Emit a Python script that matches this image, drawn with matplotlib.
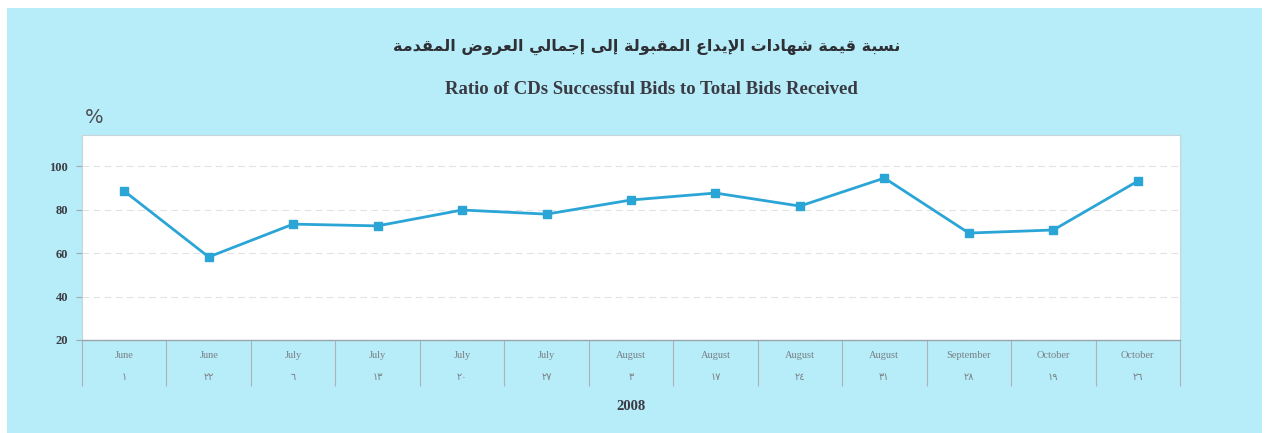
import matplotlib
matplotlib.use('Agg')
import matplotlib.pyplot as plt
from matplotlib.patches import Rectangle

title_ar = 'نسبة قيمة شهادات الإيداع المقبولة إلى إجمالي العروض المقدمة'
title_en = 'Ratio of CDs Successful Bids to Total Bids Received'
months = ['June', 'June', 'July', 'July', 'July', 'July', 'August', 'August',
          'August', 'August', 'September', 'October', 'October']
days = ['١', '٢٢', '٦', '١٣', '٢٠', '٢٧', '٣', '١٧', '٢٤', '٣١', '٢٨', '١٩', '٢٦']
ratio = [88.5, 58.2, 73.3, 72.5, 79.8, 77.9, 84.4, 87.6, 81.6, 94.5, 69.2, 70.6, 93.1]
year = '2008'

# arabic presentation forms: isolated, final, initial, medial
forms = {
    'ا': 'ﺍﺎ', 'أ': 'ﺃﺄ', 'إ': 'ﺇﺈ', 'د': 'ﺩﺪ', 'ر': 'ﺭﺮ', 'و': 'ﻭﻮ',
    'ة': 'ﺓﺔ', 'ى': 'ﻯﻰ',
    'ب': 'ﺏﺐﺑﺒ', 'ت': 'ﺕﺖﺗﺘ', 'ج': 'ﺝﺞﺟﺠ', 'س': 'ﺱﺲﺳﺴ', 'ش': 'ﺵﺶﺷﺸ',
    'ض': 'ﺽﺾﺿﻀ', 'ع': 'ﻉﻊﻋﻌ', 'ق': 'ﻕﻖﻗﻘ', 'ل': 'ﻝﻞﻟﻠ', 'م': 'ﻡﻢﻣﻤ',
    'ن': 'ﻥﻦﻧﻨ', 'ه': 'ﻩﻪﻫﻬ', 'ي': 'ﻱﻲﻳﻴ',
}
lamalef = {'ا': 'ﻻﻼ', 'إ': 'ﻹﻺ', 'أ': 'ﻷﻸ'}


def shape(text):
    chars = list(text)
    out = []
    i = 0
    while i < len(chars):
        c = chars[i]
        prev = chars[i - 1] if i > 0 else ' '
        prev_joins = prev in forms and len(forms[prev]) == 4
        if c not in forms:
            out.append(c)
            i += 1
            continue
        if c == 'ل' and i + 1 < len(chars) and chars[i + 1] in lamalef:
            out.append(lamalef[chars[i + 1]][1 if prev_joins else 0])
            i += 2
            continue
        nxt = chars[i + 1] if i + 1 < len(chars) else ' '
        next_joins = nxt in forms
        f = forms[c]
        if len(f) == 2:
            out.append(f[1] if prev_joins else f[0])
        else:
            if prev_joins and next_joins:
                out.append(f[3])
            elif prev_joins:
                out.append(f[1])
            elif next_joins:
                out.append(f[2])
            else:
                out.append(f[0])
        i += 1
    return ''.join(out[::-1])


cyan = '#b6edf8'
line_col = '#2ba5d6'
grey_txt = '#7a7f85'

fig = plt.figure(figsize=(12.69, 4.33), dpi=100)
fig.patch.set_facecolor('white')
fig.patches.append(Rectangle((7 / 1269, 0), 1255 / 1269, 425 / 433,
                             transform=fig.transFigure, facecolor=cyan,
                             edgecolor='none', zorder=-10))

ax = fig.add_axes([82 / 1269, 1 - 340 / 433, 1098 / 1269, 205 / 433])
ax.set_facecolor('white')
x = list(range(len(ratio)))
ax.plot(x, ratio, color=line_col, lw=2.0, marker='s', ms=5.5, zorder=3)

ax.set_xlim(-0.5, len(ratio) - 0.5)
ax.set_ylim(20, 114.3)
ax.set_yticks([20, 40, 60, 80, 100])
ax.set_yticklabels(['20', '40', '60', '80', '100'], fontfamily='Liberation Serif',
                   fontweight='bold', fontsize=9, color='#3c3c44')
ax.tick_params(axis='y', length=4, color='#a0a8b0', pad=6)
ax.grid(axis='y', color='#e2e2e2', lw=0.8, ls=(0, (6, 4)))

ax.set_xticks(x)
ax.set_xticklabels([''] * len(x))
ax.tick_params(axis='x', which='major', length=0)
ax.set_xticks([i - 0.5 for i in range(len(x) + 1)], minor=True)
ax.tick_params(axis='x', which='minor', length=33, width=0.8, color='#a9b4ba',
               direction='out')

for i in x:
    ax.annotate(months[i], (i, 0), xycoords=('data', 'axes fraction'),
                xytext=(0, -11), textcoords='offset points', ha='center',
                va='center', fontsize=7.5, color=grey_txt,
                fontfamily='Liberation Serif')
    ax.annotate(days[i], (i, 0), xycoords=('data', 'axes fraction'),
                xytext=(0, -27), textcoords='offset points', ha='center',
                va='center', fontsize=7, color=grey_txt,
                fontfamily=['Liberation Serif', 'DejaVu Sans'])

for side in ['top', 'right', 'left']:
    ax.spines[side].set_color('#c8d4da')
    ax.spines[side].set_linewidth(0.8)
ax.spines['bottom'].set_color('#9aa4aa')
ax.spines['bottom'].set_linewidth(1.0)

fig.text(647 / 1269, 1 - 47 / 433, shape(title_ar), ha='center', va='center',
         fontsize=11.5, fontweight='bold', fontfamily='DejaVu Sans', color='#2f2f36')
fig.text(651 / 1269, 1 - 90 / 433, title_en, ha='center', va='center',
         fontsize=13.5, fontweight='bold', fontfamily='Liberation Serif',
         color='#3a3a44')
fig.text(94 / 1269, 1 - 117 / 433, '%', ha='center', va='center', fontsize=14,
         fontfamily='DejaVu Sans', color='#4a4a52')
fig.text(631 / 1269, 1 - 407 / 433, year, ha='center', va='center', fontsize=10.5,
         fontweight='bold', fontfamily='Liberation Serif', color='#3a3a44')

fig.savefig('out.png', dpi=100)
